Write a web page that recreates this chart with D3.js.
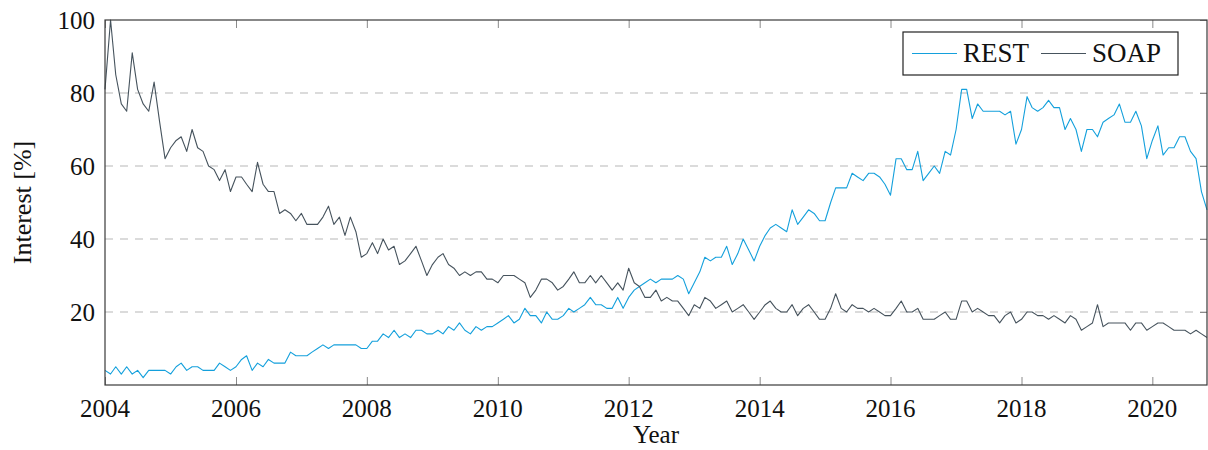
<!DOCTYPE html>
<html>
<head>
<meta charset="utf-8">
<script src="https://cdn.jsdelivr.net/npm/d3@7"></script>
<style>
  body { margin: 0; background: #fff; }
  svg { display: block; font-family: "Liberation Serif", serif; }
</style>
</head>
<body>
<svg id="chart" width="1208" height="450"></svg>
<script>
// monthly Google-Trends style interest, Jan 2004 .. Nov 2020
const startMonth = new Date(2004, 0, 1);

const restValues = [
  4,3,5,3,5,3,4,2,4,4, 4,4,3,5,6,4,5,5,4,4,
  4,6,5,4,5,7,8,4,6,5, 7,6,6,6,9,8,8,8,9,10,
  11,10,11,11,11,11,11,10,10,12, 12,14,13,15,13,14,13,15,15,14,
  14,15,14,16,15,17,15,14,16,15, 16,16,17,18,19,17,18,21,19,19,
  17,20,18,18,19,21,20,21,22,24, 22,22,21,21,24,21,24,26,27,28,
  29,28,29,29,29,30,29,25,28,31, 35,34,35,35,38,33,36,40,37,34,
  38,41,43,44,43,42,48,44,46,48, 47,45,45,50,54,54,54,58,57,56,
  58,58,57,55,52,62,62,59,59,64, 56,58,60,58,64,63,70,81,81,73,
  77,75,75,75,75,74,75,66,70,79, 76,75,76,78,76,76,70,73,70,64,
  70,70,68,72,73,74,77,72,72,75, 71,62,67,71,63,65,65,68,68,64,
  62,53,48
];

const soapValues = [
  81,100,85,77,75,91,81,77,75,83, 72,62,65,67,68,64,70,65,64,60,
  59,56,59,53,57,57,55,53,61,55, 53,53,47,48,47,45,47,44,44,44,
  46,49,44,46,41,46,42,35,36,39, 36,40,37,38,33,34,36,38,34,30,
  33,35,36,33,32,30,31,30,31,31, 29,29,28,30,30,30,29,28,24,26,
  29,29,28,26,27,29,31,28,28,30, 28,30,28,26,28,26,32,28,27,24,
  24,26,23,24,23,23,21,19,22,21, 24,23,21,22,23,20,21,22,20,18,
  20,22,23,21,20,20,22,19,21,22, 20,18,18,21,25,21,20,22,21,21,
  20,21,20,19,19,21,23,20,20,21, 18,18,18,19,20,18,18,23,23,20,
  21,20,19,19,17,19,20,17,18,20, 20,19,19,18,19,18,17,19,18,15,
  16,17,22,16,17,17,17,17,15,17, 17,15,16,17,17,16,15,15,15,14,
  15,14,13
];

const seriesNames = ["REST", "SOAP"];
const seriesColors = ["#14a0dc", "#46535d"];
const yTicks = [20, 40, 60, 80, 100];
const xTickYears = [2004, 2006, 2008, 2010, 2012, 2014, 2016, 2018, 2020];

const months = d3.timeMonth.range(startMonth, d3.timeMonth.offset(startMonth, restValues.length));

const svg = d3.select("#chart");
const margin = { left: 105, right: 1207, top: 20, bottom: 385 };

const x = d3.scaleTime()
  .domain([months[0], months[months.length - 1]])
  .range([margin.left, margin.right]);
const y = d3.scaleLinear()
  .domain([0, 100])
  .range([margin.bottom, margin.top]);

// dashed horizontal grid
svg.append("g")
  .selectAll("line")
  .data(yTicks.filter(d => d < 100))
  .join("line")
  .attr("x1", margin.left).attr("x2", margin.right)
  .attr("y1", d => y(d)).attr("y2", d => y(d))
  .attr("stroke", "#cfcfcf")
  .attr("stroke-width", 1.3)
  .attr("stroke-dasharray", "8,7");

// tick marks inside the frame
const tickDates = xTickYears.map(yr => new Date(yr, 0, 1));
svg.append("g")
  .attr("transform", `translate(0,${margin.bottom})`)
  .call(d3.axisTop(x).tickValues(tickDates).tickSize(8).tickFormat(""))
  .call(g => g.select(".domain").remove())
  .call(g => g.selectAll("line").attr("stroke", "#8a8a8a"));
svg.append("g")
  .attr("transform", `translate(0,${margin.top})`)
  .call(d3.axisBottom(x).tickValues(tickDates).tickSize(8).tickFormat(""))
  .call(g => g.select(".domain").remove())
  .call(g => g.selectAll("line").attr("stroke", "#8a8a8a"));
svg.append("g")
  .attr("transform", `translate(${margin.right},0)`)
  .call(d3.axisLeft(y).tickValues(yTicks).tickSize(7).tickFormat(""))
  .call(g => g.select(".domain").remove())
  .call(g => g.selectAll("line").attr("stroke", "#8a8a8a"));

// lines
const line = d3.line()
  .x((d, i) => x(months[i]))
  .y(d => y(d));

[restValues, soapValues].forEach((vals, k) => {
  svg.append("path")
    .datum(vals)
    .attr("fill", "none")
    .attr("stroke", seriesColors[k])
    .attr("stroke-width", 1.1)
    .attr("stroke-linejoin", "round")
    .attr("d", line);
});

// frame
svg.append("rect")
  .attr("x", margin.left).attr("y", margin.top)
  .attr("width", margin.right - margin.left)
  .attr("height", margin.bottom - margin.top)
  .attr("fill", "none")
  .attr("stroke", "#3a3a3a")
  .attr("stroke-width", 1.2);

// tick labels
svg.append("g")
  .selectAll("text")
  .data(tickDates)
  .join("text")
  .attr("x", d => x(d))
  .attr("y", 417)
  .attr("text-anchor", "middle")
  .attr("font-size", 25)
  .attr("fill", "#111")
  .text(d => d.getFullYear());

svg.append("g")
  .selectAll("text")
  .data(yTicks)
  .join("text")
  .attr("x", 95)
  .attr("y", d => y(d))
  .attr("dy", "0.34em")
  .attr("text-anchor", "end")
  .attr("font-size", 25)
  .attr("fill", "#111")
  .text(d => d);

// axis titles
svg.append("text")
  .attr("x", (margin.left + margin.right) / 2)
  .attr("y", 443)
  .attr("text-anchor", "middle")
  .attr("font-size", 25)
  .attr("fill", "#111")
  .text("Year");

svg.append("text")
  .attr("transform", `translate(31,${(margin.top + margin.bottom) / 2}) rotate(-90)`)
  .attr("text-anchor", "middle")
  .attr("font-size", 26)
  .attr("fill", "#111")
  .text("Interest [%]");

// legend
const legend = svg.append("g");
legend.append("rect")
  .attr("x", 903).attr("y", 32)
  .attr("width", 275).attr("height", 43)
  .attr("fill", "#fff")
  .attr("stroke", "#222")
  .attr("stroke-width", 1.2);
const legendX = [912, 1041];
seriesNames.forEach((name, k) => {
  legend.append("line")
    .attr("x1", legendX[k]).attr("x2", legendX[k] + 45)
    .attr("y1", 53.5).attr("y2", 53.5)
    .attr("stroke", seriesColors[k])
    .attr("stroke-width", 1.1);
  legend.append("text")
    .attr("x", legendX[k] + 51)
    .attr("y", 62)
    .attr("font-size", 27)
    .attr("fill", "#111")
    .text(name);
});
</script>
</body>
</html>
